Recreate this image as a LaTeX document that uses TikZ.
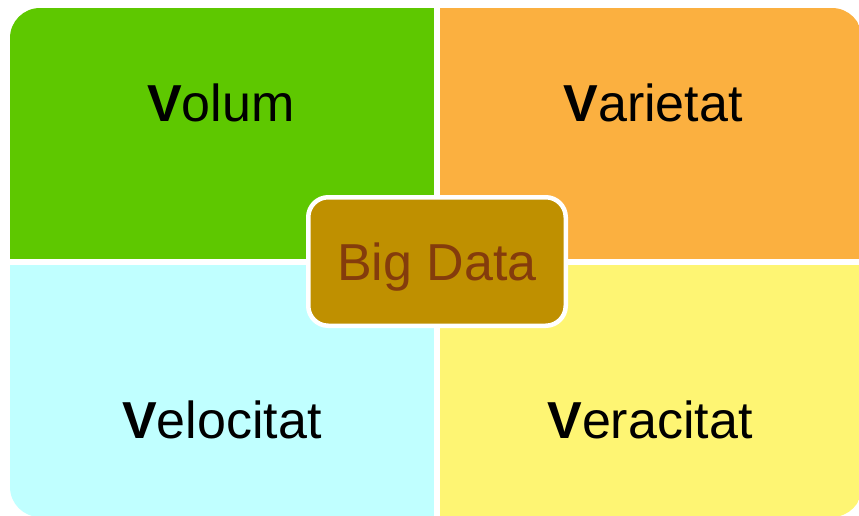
\documentclass[tikz,border=0pt]{standalone}
\usepackage{fontspec}
\setmainfont{Liberation Sans}
\definecolor{volumgreen}{HTML}{5EC800}
\definecolor{varorange}{HTML}{FBB040}
\definecolor{velcyan}{HTML}{C0FFFF}
\definecolor{veryellow}{HTML}{FEF573}
\definecolor{biggold}{HTML}{BF9000}
\definecolor{bigbrown}{HTML}{843C0C}
\begin{document}
\begin{tikzpicture}[x=1pt,y=-1pt,line join=round,
    vlabel/.style={anchor=base,inner sep=0pt,font=\fontsize{52}{62}\selectfont},
    centerbox/.style={draw=white,line width=4.5pt,fill=biggold,rounded corners=20pt,
        minimum width=257.5pt,minimum height=128.5pt,inner sep=0pt,text depth=0pt,
        text=bigbrown,font=\fontsize{52}{62}\selectfont}]
    \useasboundingbox (0,0) rectangle (859,515);
    \begin{scope}
        \clip[rounded corners=30pt] (10,8) rectangle (862,517);
        \fill[volumgreen] (10,8) rectangle (434,259);
        \fill[varorange] (440,8) rectangle (866,259);
        \fill[velcyan] (10,265) rectangle (434,520);
        \fill[veryellow] (440,265) rectangle (866,520);
    \end{scope}
    \node[vlabel] (volum) at (221,121) {\textbf{V}olum};
    \node[vlabel] (varietat) at (653,121) {\textbf{V}arietat};
    \node[vlabel] (velocitat) at (222,438) {\textbf{V}elocitat};
    \node[vlabel] (veracitat) at (650,438) {\textbf{V}eracitat};
    \node[centerbox] (bigdata) at (437,261.5) {Big Data};
\end{tikzpicture}
\end{document}
